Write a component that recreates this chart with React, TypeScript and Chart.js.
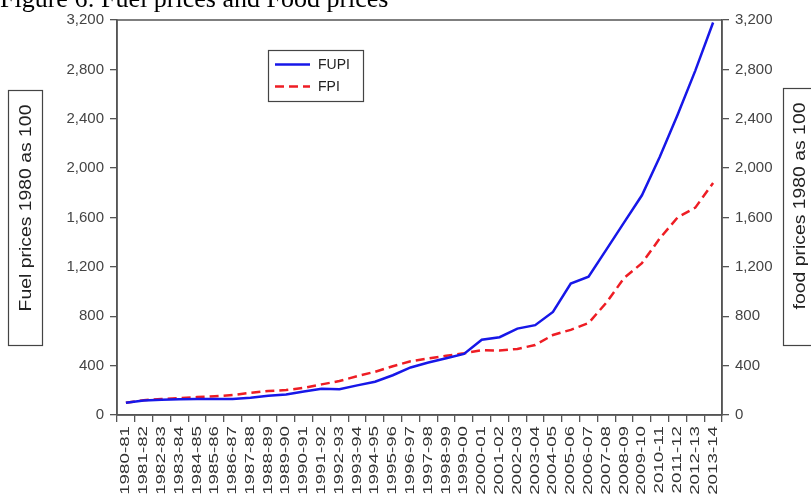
import React, { useEffect, useRef } from "react";
import { Chart, registerables } from "chart.js";

Chart.register(...registerables);

const categories = [
  "1980-81", "1981-82", "1982-83", "1983-84", "1984-85", "1985-86", "1986-87",
  "1987-88", "1988-89", "1989-90", "1990-91", "1991-92", "1992-93", "1993-94",
  "1994-95", "1995-96", "1996-97", "1997-98", "1998-99", "1999-00", "2000-01",
  "2001-02", "2002-03", "2003-04", "2004-05", "2005-06", "2006-07", "2007-08",
  "2008-09", "2009-10", "2010-11", "2011-12", "2012-13", "2013-14",
];

const fupi = [
  100, 117, 123, 128, 130, 130, 130, 140, 155, 167, 190, 213, 208, 240, 270, 322,
  385, 425, 460, 495, 610, 630, 700, 728, 835, 1065, 1120, 1340, 1560, 1780, 2090,
  2430, 2790, 3180,
];

const fpi = [
  100, 120, 130, 137, 145, 152, 162, 180, 195, 202, 220, 248, 275, 315, 350, 395,
  435, 458, 480, 500, 525, 522, 535, 567, 648, 690, 745, 910, 1110, 1230, 1430,
  1600, 1680, 1880,
];

const seriesLabels = ["FUPI", "FPI"];
const yMin = 0;
const yMax = 3200;
const yStep = 400;
const leftTitle = "Fuel prices 1980 as 100";
const rightTitle = "food prices 1980 as 100";
const chartTitle = "Figure 6: Fuel prices and Food prices";

const SANS = '"Liberation Sans", Arial, sans-serif';
const AXIS = "#555";

const extras = {
  id: "extras",
  afterDraw(chart: any) {
    const { ctx, chartArea } = chart;
    const { left, right, top, bottom } = chartArea;
    ctx.save();

    // frame
    ctx.strokeStyle = AXIS;
    ctx.lineWidth = 1.5;
    ctx.strokeRect(left, top, right - left, bottom - top);

    // x labels (rotated)
    const xs = chart.scales.x;
    ctx.fillStyle = "#333";
    ctx.font = `12.5px ${SANS}`;
    const labels: string[] = chart.data.labels;
    labels.forEach((c, i) => {
      const x = xs.getPixelForValue(i);
      ctx.save();
      ctx.translate(x, bottom + 11);
      ctx.rotate(-Math.PI / 2);
      ctx.scale(1.5, 1);
      ctx.textAlign = "right";
      ctx.textBaseline = "middle";
      ctx.fillText(c, 0, 0);
      ctx.restore();
    });

    // axis title boxes
    ctx.strokeStyle = "#444";
    ctx.lineWidth = 1.2;
    ctx.strokeRect(8.5, 90.5, 34, 255);
    ctx.strokeRect(783.5, 88.5, 40, 257);
    ctx.fillStyle = "#222";
    ctx.font = `17px ${SANS}`;
    const drawV = (t: string, x: number, y: number) => {
      ctx.save();
      ctx.translate(x, y);
      ctx.rotate(-Math.PI / 2);
      ctx.scale(1.14, 1);
      ctx.textAlign = "center";
      ctx.textBaseline = "middle";
      ctx.fillText(t, 0, 0);
      ctx.restore();
    };
    drawV(leftTitle, 26, 208);
    drawV(rightTitle, 800, 206);

    // legend
    ctx.fillStyle = "#fff";
    ctx.fillRect(268.5, 50.5, 95, 51);
    ctx.strokeStyle = "#444";
    ctx.lineWidth = 1.2;
    ctx.strokeRect(268.5, 50.5, 95, 51);
    const ds = chart.data.datasets;
    const rows = [64.5, 86.5];
    ds.forEach((d: any, i: number) => {
      const y = rows[i];
      ctx.save();
      ctx.strokeStyle = d.borderColor;
      ctx.lineWidth = d.borderWidth;
      ctx.setLineDash(d.borderDash || []);
      ctx.beginPath();
      ctx.moveTo(275, y);
      ctx.lineTo(310, y);
      ctx.stroke();
      ctx.restore();
      ctx.fillStyle = "#222";
      ctx.font = `14px ${SANS}`;
      ctx.textAlign = "left";
      ctx.textBaseline = "middle";
      ctx.fillText(d.label, 318, y + 0.5);
    });

    // chart title (cut at the top)
    ctx.fillStyle = "#000";
    ctx.font = '26px "Liberation Serif", "Times New Roman", serif';
    ctx.textAlign = "left";
    ctx.textBaseline = "alphabetic";
    ctx.fillText(chartTitle, 0, 7);

    ctx.restore();
  },
};

export default function App() {
  const ref = useRef<HTMLCanvasElement | null>(null);

  useEffect(() => {
    if (!ref.current) return;
    const yAxisCommon = {
      min: yMin,
      max: yMax,
      ticks: {
        stepSize: yStep,
        color: "#444",
        padding: 6,
        font: { family: SANS, size: 15 },
      },
      grid: {
        drawOnChartArea: false,
        drawTicks: true,
        tickLength: 7,
        color: AXIS,
        lineWidth: 1.3,
      },
      border: { display: true, color: AXIS, width: 1.5 },
    };
    const chart = new Chart(ref.current, {
      type: "line",
      data: {
        labels: categories,
        datasets: [
          {
            label: seriesLabels[0],
            data: fupi,
            borderColor: "#1717e8",
            backgroundColor: "#1717e8",
            borderWidth: 2.5,
            pointRadius: 0,
            tension: 0,
            yAxisID: "y",
          },
          {
            label: seriesLabels[1],
            data: fpi,
            borderColor: "#ee1d24",
            backgroundColor: "#ee1d24",
            borderWidth: 2.5,
            borderDash: [9, 5],
            pointRadius: 0,
            tension: 0,
            yAxisID: "y1",
          },
        ],
      },
      options: {
        responsive: false,
        animation: false,
        devicePixelRatio: 1,
        layout: { padding: { top: 20, left: 0, right: 0, bottom: 0 } },
        plugins: {
          legend: { display: false },
          tooltip: { enabled: false },
          title: { display: false },
        },
        scales: {
          x: {
            type: "category",
            offset: true,
            ticks: { display: false },
            grid: {
              offset: true,
              drawOnChartArea: false,
              drawTicks: true,
              tickLength: 7,
              color: AXIS,
              lineWidth: 1.3,
            },
            border: { display: true, color: AXIS, width: 1.5 },
            afterFit: (s: any) => {
              s.height = 80;
            },
          },
          y: {
            ...yAxisCommon,
            position: "left",
            afterFit: (s: any) => {
              s.width = 117;
            },
          },
          y1: {
            ...yAxisCommon,
            position: "right",
            afterFit: (s: any) => {
              s.width = 89;
            },
          },
        },
      } as any,
      plugins: [extras],
    });
    return () => chart.destroy();
  }, []);

  return (
    <div
      style={{
        position: "fixed",
        left: 0,
        top: 0,
        width: 811,
        height: 495,
        background: "#fff",
        overflow: "hidden",
      }}
    >
      <canvas ref={ref} width={811} height={495} style={{ display: "block" }} />
    </div>
  );
}
